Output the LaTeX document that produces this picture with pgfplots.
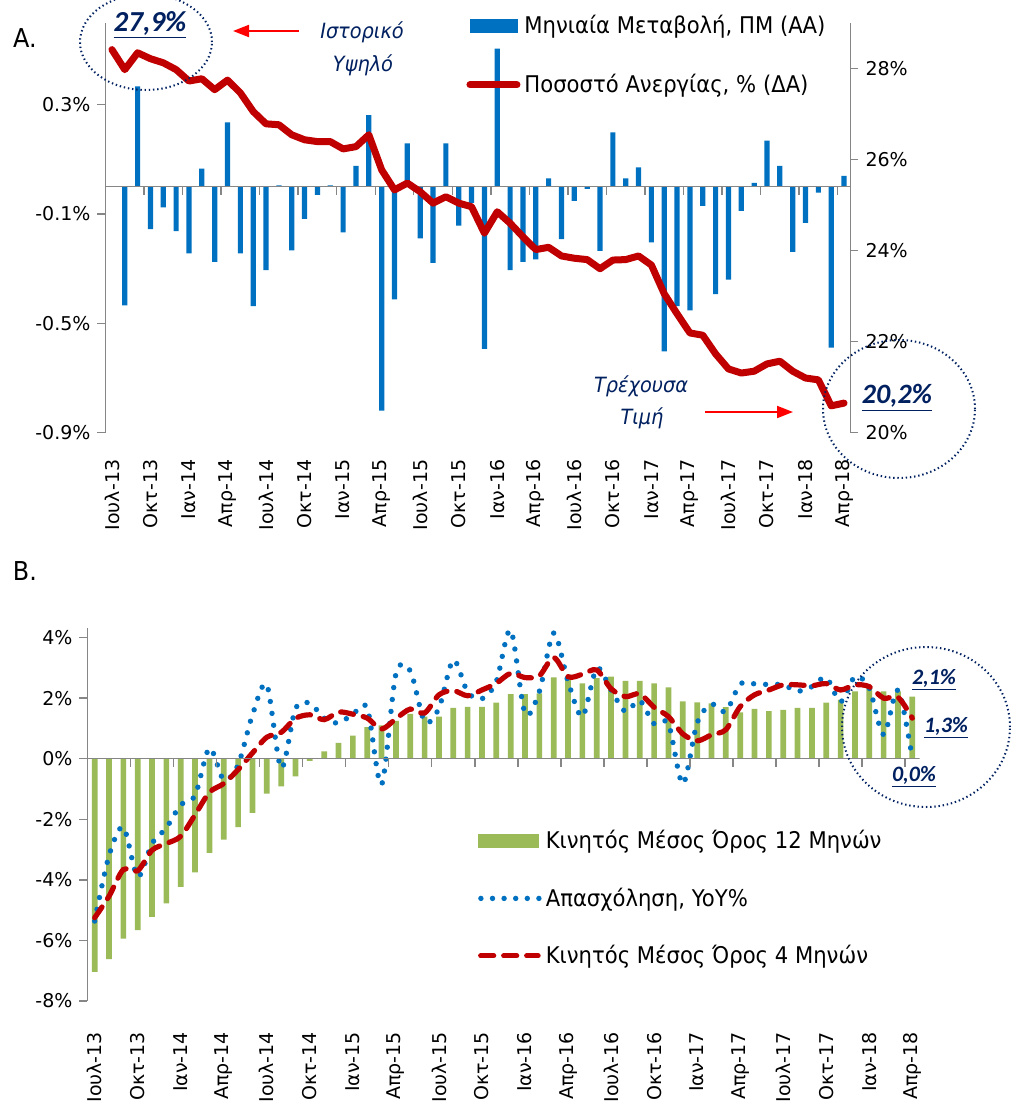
\documentclass[border=0pt]{standalone}
\usepackage{fontspec}
\setmainfont{DejaVu Sans}
\newfontfamily\legfont[FakeStretch=0.92]{DejaVu Sans}
\newfontfamily\annfont{Carlito}
\usepackage{pgfplots}
\pgfplotsset{compat=1.18}
\usetikzlibrary{arrows.meta}
\definecolor{barblue}{HTML}{0070C0}
\definecolor{linered}{HTML}{C00000}
\definecolor{bargreen}{HTML}{9BBB59}
\definecolor{navy}{HTML}{002060}
\definecolor{axgray}{HTML}{868686}

% monthly data, Jul-13 (0) ... Apr-18 (57); picture units: 1 px = 0.5pt
\begin{document}
\begin{tikzpicture}
\useasboundingbox (0pt,0pt) rectangle (506.5pt,-552pt);

\pgfplotsset{
  common/.style={
    scale only axis,
    /pgf/number format/assume math mode=true,
    tick label style={font=\fontsize{9.5}{11}\selectfont},
    xmin=-0.5, xmax=57.5,
    axis line style={axgray, line width=0.7pt},
    tick style={axgray, line width=0.7pt},
    major tick length=4pt,
    tick align=outside,
  },
  months/.style={
    axis x line*=bottom,
    x axis line style={draw=none},
    xtick={0,3,...,57},
    xticklabels={Ιουλ-13,Οκτ-13,Ιαν-14,Απρ-14,Ιουλ-14,Οκτ-14,Ιαν-15,Απρ-15,Ιουλ-15,Οκτ-15,
                 Ιαν-16,Απρ-16,Ιουλ-16,Οκτ-16,Ιαν-17,Απρ-17,Ιουλ-17,Οκτ-17,Ιαν-18,Απρ-18},
    x tick label style={rotate=90, anchor=east},
    x tick style={draw=none},
  },
  panelA/.style={common, width=372.5pt, height=205pt,
    at={(52.75pt,-216.35pt)}, anchor=south west},
}

% ---------------- A: bars, left axis
\begin{axis}[panelA, months,
  ymin=-0.9, ymax=0.6,
  axis y line*=left,
  ytick={-0.9,-0.5,-0.1,0.3},
  yticklabel={\pgfmathprintnumber[fixed,precision=1]{\tick}\%},
  xticklabel shift=6pt,
]
\addplot[ybar, bar width=2.6pt, fill=barblue, draw=none] coordinates {
 (0,0) (1,-0.434) (2,0.367) (3,-0.155) (4,-0.076) (5,-0.162) (6,-0.244) (7,0.066)
 (8,-0.275) (9,0.235) (10,-0.244) (11,-0.437) (12,-0.305) (13,0.005) (14,-0.233)
 (15,-0.118) (16,-0.030) (17,0.005) (18,-0.167) (19,0.076) (20,0.262) (21,-0.819)
 (22,-0.412) (23,0.159) (24,-0.189) (25,-0.279) (26,0.159) (27,-0.142) (28,-0.059)
 (29,-0.593) (30,0.505) (31,-0.305) (32,-0.275) (33,-0.266) (34,0.031) (35,-0.192)
 (36,-0.052) (37,-0.008) (38,-0.235) (39,0.199) (40,0.031) (41,0.071) (42,-0.204)
 (43,-0.602) (44,-0.437) (45,-0.452) (46,-0.070) (47,-0.393) (48,-0.340) (49,-0.088)
 (50,0.014) (51,0.169) (52,0.076) (53,-0.238) (54,-0.132) (55,-0.022) (56,-0.589)
 (57,0.040)
};
\draw[axgray, line width=0.7pt] (axis cs:-0.5,0) -- (axis cs:57.5,0);
\pgfplotsinvokeforeach{2.5,5.5,...,56.5}{
  \draw[axgray, line width=0.7pt] (axis cs:#1,0) -- ([yshift=-4pt]axis cs:#1,0);
}
\end{axis}

% ---------------- A: unemployment rate, right axis
\begin{axis}[panelA,
  ymin=20, ymax=29,
  axis y line*=right, axis x line=none,
  ytick={20,22,...,28},
  yticklabel={\pgfmathprintnumber{\tick}\%},
  legend style={at={(0.484,1.03)}, anchor=north west, draw=none, fill=none,
    font=\legfont\fontsize{11.5}{13}\selectfont, row sep=15pt, inner sep=0pt},
  legend cell align=left,
]
\addlegendimage{legend image code/.code={\fill[barblue] (1pt,-3.3pt) rectangle (24.5pt,3.3pt);}}
\addlegendentry{Μηνιαία Μεταβολή, ΠΜ (ΑΑ)}
\addplot[linered, line width=3.5pt, line join=round, line cap=round,
  legend image code/.code={\draw[linered, line width=3.5pt, line cap=round] (1pt,0pt) -- (24.5pt,0pt);}]
  coordinates {
 (0,28.41) (1,27.97) (2,28.34) (3,28.21) (4,28.12) (5,27.97) (6,27.72) (7,27.77)
 (8,27.53) (9,27.74) (10,27.46) (11,27.05) (12,26.78) (13,26.76) (14,26.54) (15,26.43)
 (16,26.39) (17,26.39) (18,26.23) (19,26.28) (20,26.54) (21,25.77) (22,25.33) (23,25.48)
 (24,25.29) (25,25.04) (26,25.18) (27,25.04) (28,24.96) (29,24.38) (30,24.85) (31,24.60)
 (32,24.30) (33,24.02) (34,24.07) (35,23.88) (36,23.83) (37,23.80) (38,23.60) (39,23.79)
 (40,23.80) (41,23.88) (42,23.68) (43,23.05) (44,22.61) (45,22.19) (46,22.14) (47,21.73)
 (48,21.40) (49,21.31) (50,21.35) (51,21.51) (52,21.57) (53,21.35) (54,21.20) (55,21.16)
 (56,20.59) (57,20.65)
};
\addlegendentry{Ποσοστό Ανεργίας, \% (ΔΑ)}
\end{axis}

% ---------------- B
\begin{axis}[common, months,
  width=416pt, height=186.25pt,
  at={(43.75pt,-500.5pt)}, anchor=south west,
  ymin=-8, ymax=4.3,
  axis y line*=left,
  ytick={-8,-6,...,4},
  yticklabel={\pgfmathprintnumber{\tick}\%},
  xticklabel shift=8pt,
  legend style={at={(0.469,0.47)}, anchor=north west, draw=none, fill=none,
    font=\legfont\fontsize{11.5}{13}\selectfont, row sep=14pt, inner sep=0pt},
  legend cell align=left,
]
\addplot[ybar, bar width=2.85pt, fill=bargreen, draw=none,
  legend image code/.code={\fill[bargreen] (0pt,-3.3pt) rectangle (30.5pt,3.3pt);}]
  coordinates {
 (0,-7.04) (1,-6.62) (2,-5.94) (3,-5.66) (4,-5.22) (5,-4.78) (6,-4.23) (7,-3.75)
 (8,-3.11) (9,-2.67) (10,-2.26) (11,-1.79) (12,-1.15) (13,-0.91) (14,-0.58) (15,-0.07)
 (16,0.24) (17,0.52) (18,0.76) (19,1.04) (20,1.10) (21,1.25) (22,1.48) (23,1.39)
 (24,1.39) (25,1.68) (26,1.71) (27,1.71) (28,1.85) (29,2.13) (30,2.13) (31,2.16)
 (32,2.69) (33,2.66) (34,2.49) (35,2.66) (36,2.71) (37,2.57) (38,2.57) (39,2.49)
 (40,2.36) (41,1.89) (42,1.86) (43,1.83) (44,1.70) (45,1.53) (46,1.65) (47,1.57)
 (48,1.61) (49,1.68) (50,1.68) (51,1.85) (52,1.94) (53,2.22) (54,2.33) (55,2.22)
 (56,2.22) (57,2.05)
};
\addlegendentry{Κινητός Μέσος Όρος 12 Μηνών}
\addplot[barblue, line width=2.7pt, line cap=round, dash pattern=on 0pt off 6pt,
  smooth, tension=0.5,
  legend image code/.code={\draw[barblue, line width=2.7pt, line cap=round, dash pattern=on 0pt off 5.8pt] (1.4pt,0pt) -- (30.5pt,0pt);}]
  coordinates {
 (0,-5.36) (1,-3.20) (2,-2.26) (3,-3.90) (4,-2.80) (5,-2.28) (6,-1.52) (7,-1.21)
 (8,0.35) (9,-0.70) (10,-0.20) (11,1.45) (12,2.44) (13,-0.31) (14,1.65) (15,1.83)
 (16,1.34) (17,1.18) (18,1.47) (19,1.67) (20,-0.85) (21,2.80) (22,2.90) (23,1.23)
 (24,1.67) (25,3.26) (26,2.20) (27,1.98) (28,2.55) (29,4.25) (30,1.50) (31,2.22)
 (32,4.15) (33,2.55) (34,1.39) (35,2.99) (36,2.27) (37,1.56) (38,1.92) (39,1.15)
 (40,1.15) (41,-0.83) (42,1.18) (43,1.80) (44,1.56) (45,2.47) (46,2.47) (47,2.45)
 (48,2.44) (49,2.23) (50,2.38) (51,2.68) (52,1.88) (53,2.71) (54,2.33) (55,0.79)
 (56,2.27) (57,0.00)
};
\addlegendentry{Απασχόληση, YoY\%}
\addplot[linered, line width=2.6pt, line cap=round, dash pattern=on 6.5pt off 5pt,
  smooth, tension=0.5,
  legend image code/.code={\draw[linered, line width=2.6pt, line cap=round, dash pattern=on 6.5pt off 5pt] (1.3pt,0pt) -- (30pt,0pt);}]
  coordinates {
 (0,-5.25) (1,-4.54) (2,-3.66) (3,-3.70) (4,-3.02) (5,-2.80) (6,-2.56) (7,-1.85)
 (8,-1.11) (9,-0.82) (10,-0.36) (11,0.19) (12,0.71) (13,0.87) (14,1.33) (15,1.45)
 (16,1.29) (17,1.54) (18,1.47) (19,1.34) (20,0.98) (21,1.32) (22,1.64) (23,1.51)
 (24,2.11) (25,2.25) (26,2.08) (27,2.27) (28,2.49) (29,2.82) (30,2.68) (31,2.74)
 (32,3.34) (33,2.71) (34,2.79) (35,2.93) (36,2.31) (37,2.05) (38,2.14) (39,1.70)
 (40,1.39) (41,0.82) (42,0.59) (43,0.79) (44,0.96) (45,1.72) (46,2.11) (47,2.27)
 (48,2.44) (49,2.44) (50,2.41) (51,2.48) (52,2.27) (53,2.44) (54,2.38) (55,2.00)
 (56,2.03) (57,1.34)
};
\addlegendentry{Κινητός Μέσος Όρος 4 Μηνών}
\draw[axgray, line width=0.7pt] (axis cs:-0.5,0) -- (axis cs:57.5,0);
\pgfplotsinvokeforeach{2.5,5.5,...,56.5}{
  \draw[axgray, line width=0.7pt] (axis cs:#1,0) -- ([yshift=-4pt]axis cs:#1,0);
}
\end{axis}

% ---------------- annotations (px coordinates scaled by 0.5pt, y downwards)
\begin{scope}[x=0.5pt,y=-0.5pt]
\node[font=\legfont\fontsize{13}{15}\selectfont] at (25,38) {A.};
\node[font=\legfont\fontsize{13}{15}\selectfont] at (25,571) {B.};

\draw[navy, line width=1pt, dash pattern=on 0.7pt off 1.4pt] (146,42) ellipse [x radius=33pt, y radius=24pt];
\node[navy, font=\annfont\bfseries\itshape\fontsize{14.5}{16}\selectfont] at (150,25) {\underline{27,9\%}};
\draw[red, line width=1pt, -{Triangle[length=8pt,width=6pt]}] (299,31) -- (233,31);
\node[navy, font=\legfont\itshape\fontsize{10.5}{12}\selectfont] at (362,32) {Ιστορικό};
\node[navy, font=\legfont\itshape\fontsize{10.5}{12}\selectfont] at (363,65) {Υψηλό};

\node[navy, font=\legfont\itshape\fontsize{10.5}{12}\selectfont] at (641,386) {Τρέχουσα};
\node[navy, font=\legfont\itshape\fontsize{10.5}{12}\selectfont] at (642,418) {Τιμή};
\draw[red, line width=1pt, -{Triangle[length=8pt,width=6pt]}] (705,412) -- (793,412);
\draw[navy, line width=1pt, dash pattern=on 0.7pt off 1.4pt] (899,409) ellipse [x radius=38pt, y radius=34.5pt];
\node[navy, font=\annfont\bfseries\itshape\fontsize{14}{16}\selectfont] at (897,398) {\underline{20,2\%}};

\draw[navy, line width=1pt, dash pattern=on 0.7pt off 1.4pt] (926,727) ellipse [x radius=42pt, y radius=40pt];
\node[navy, font=\annfont\bfseries\itshape\fontsize{11}{13}\selectfont] at (934,680) {\underline{2,1\%}};
\node[navy, font=\annfont\bfseries\itshape\fontsize{11}{13}\selectfont] at (946,728) {\underline{1,3\%}};
\node[navy, font=\annfont\bfseries\itshape\fontsize{11}{13}\selectfont] at (914,777) {\underline{0,0\%}};
\end{scope}
\end{tikzpicture}
\end{document}
